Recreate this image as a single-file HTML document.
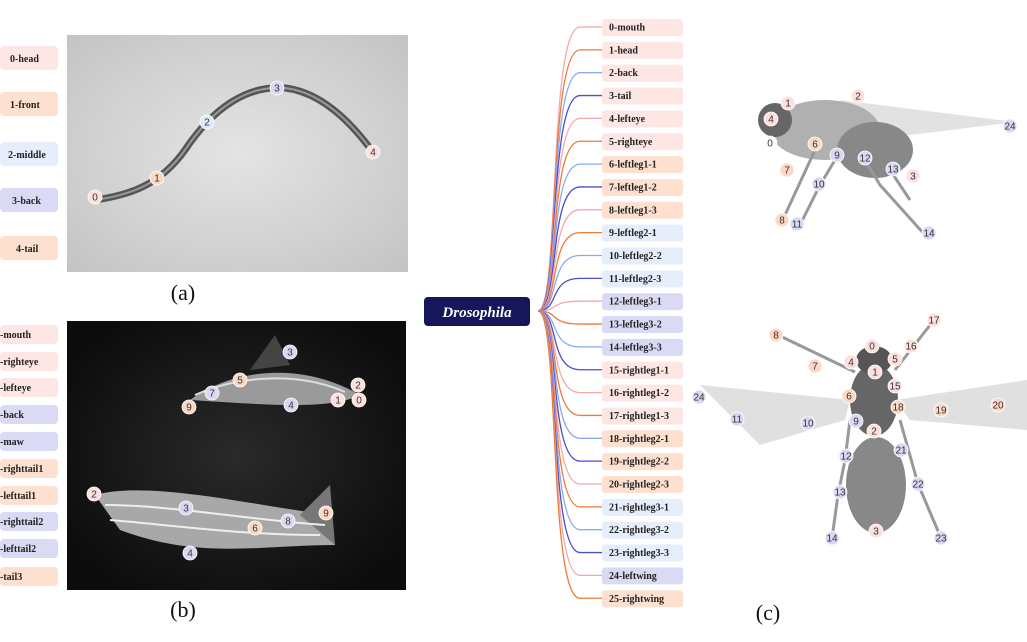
<!DOCTYPE html>
<html><head><meta charset="utf-8"><style>
html,body{margin:0;padding:0;background:#fff;}
svg{display:block;}
text{font-family:"Liberation Serif",serif;}
.lb{font-weight:bold;font-size:10px;fill:#222;}
.n{font-family:"Liberation Sans",sans-serif;font-size:10px;fill:#333;text-anchor:middle;}
</style></head><body>
<svg width="1027" height="642" viewBox="0 0 1027 642" xmlns="http://www.w3.org/2000/svg">
<defs>
<radialGradient id="wg" cx="0.5" cy="0.5" r="0.7"><stop offset="0" stop-color="#e4e4e4"/><stop offset="1" stop-color="#c4c4c4"/></radialGradient>
<radialGradient id="fg" cx="0.5" cy="0.5" r="0.6"><stop offset="0" stop-color="#2a2a2a"/><stop offset="1" stop-color="#0c0c0c"/></radialGradient>
</defs>
<g class="lb">
<rect x="0" y="46" width="58" height="24" rx="4" fill="#fde6e4"/><text x="10" y="62">0-head</text>
<rect x="0" y="92" width="58" height="24" rx="4" fill="#fde0cf"/><text x="10" y="108">1-front</text>
<rect x="0" y="142" width="58" height="24" rx="4" fill="#e6eefc"/><text x="8" y="158">2-middle</text>
<rect x="0" y="188" width="58" height="24" rx="4" fill="#dadaf4"/><text x="12" y="204">3-back</text>
<rect x="0" y="236" width="58" height="24" rx="4" fill="#fde0cf"/><text x="16" y="252">4-tail</text>
</g>
<rect x="67" y="35" width="341" height="237" fill="url(#wg)"/>
<path d="M95 200 C130 195 160 185 185 150 C215 105 250 85 285 88 C320 92 350 120 375 155" stroke="#555" stroke-width="7" fill="none" stroke-linecap="round"/>
<path d="M95 200 C130 195 160 185 185 150 C215 105 250 85 285 88 C320 92 350 120 375 155" stroke="#999" stroke-width="2" fill="none"/>
<text x="183" y="300" font-size="22" text-anchor="middle" fill="#111">(a)</text>
<g class="lb">
<rect x="0" y="325" width="58" height="19" rx="4" fill="#fde6e4"/><text x="0" y="338">-mouth</text>
<rect x="0" y="352" width="58" height="19" rx="4" fill="#fde6e4"/><text x="0" y="365">-righteye</text>
<rect x="0" y="378" width="58" height="19" rx="4" fill="#fde6e4"/><text x="0" y="391">-lefteye</text>
<rect x="0" y="405" width="58" height="19" rx="4" fill="#dadaf4"/><text x="0" y="418">-back</text>
<rect x="0" y="432" width="58" height="19" rx="4" fill="#dadaf4"/><text x="0" y="445">-maw</text>
<rect x="0" y="459" width="58" height="19" rx="4" fill="#fde0cf"/><text x="0" y="472">-righttail1</text>
<rect x="0" y="486" width="58" height="19" rx="4" fill="#fde0cf"/><text x="0" y="499">-lefttail1</text>
<rect x="0" y="512" width="58" height="19" rx="4" fill="#dadaf4"/><text x="0" y="525">-righttail2</text>
<rect x="0" y="539" width="58" height="19" rx="4" fill="#dadaf4"/><text x="0" y="552">-lefttail2</text>
<rect x="0" y="567" width="58" height="19" rx="4" fill="#fde0cf"/><text x="0" y="580">-tail3</text>
</g>
<rect x="67" y="321" width="339" height="269" fill="url(#fg)"/>
<path d="M190 400 C230 370 300 360 360 395 C330 410 270 405 190 400Z" fill="#9a9a9a"/>
<path d="M250 370 L275 335 L290 365Z" fill="#444"/>
<path d="M195 395 C240 375 300 372 345 392" stroke="#ddd" stroke-width="2" fill="none"/>
<path d="M95 495 C150 480 250 505 330 515 L335 545 C260 545 200 560 120 530Z" fill="#a8a8a8"/>
<path d="M300 515 L330 485 L335 545Z" fill="#777"/>
<path d="M105 505 C170 505 250 520 325 525 M110 520 C170 525 240 535 320 535" stroke="#eee" stroke-width="2" fill="none"/>
<text x="183" y="617" font-size="22" text-anchor="middle" fill="#111">(b)</text>
<rect x="424" y="297" width="106" height="29" rx="4" fill="#15175a"/>
<text x="477" y="317" font-size="15" font-weight="bold" font-style="italic" fill="#fff" text-anchor="middle">Drosophila</text>
<g fill="none" stroke-width="1.3" id="cn"></g>
<g id="bx" class="lb"></g>
<text x="768" y="620" font-size="22" text-anchor="middle" fill="#111">(c)</text>
<g>
<path d="M840 100 L1015 122 L870 140Z" fill="#e2e2e2"/>
<ellipse cx="825" cy="130" rx="55" ry="30" fill="#b0b0b0"/>
<ellipse cx="875" cy="150" rx="38" ry="28" fill="#888"/>
<circle cx="775" cy="120" r="17" fill="#666"/>
<path d="M815 150 L785 215 M835 160 L820 185 L800 225 M865 160 L880 185 L925 235 M890 170 L910 200" stroke="#999" stroke-width="3" fill="none"/>
</g>
<g>
<path d="M850 400 L700 385 L760 445 L845 420Z" fill="#e0e0e0"/>
<path d="M895 400 L1027 380 L1027 430 L910 420Z" fill="#e0e0e0"/>
<ellipse cx="874" cy="400" rx="24" ry="36" fill="#666"/>
<ellipse cx="874" cy="360" rx="18" ry="14" fill="#555"/>
<ellipse cx="876" cy="485" rx="30" ry="48" fill="#888"/>
<path d="M855 372 L778 335 M895 370 L934 320 M850 420 L845 460 L838 495 L832 538 M900 420 L918 484 L941 538" stroke="#999" stroke-width="3" fill="none"/>
</g>
<g id="pts"></g>
</svg>
<script>
var labels=["0-mouth","1-head","2-back","3-tail","4-lefteye","5-righteye","6-leftleg1-1","7-leftleg1-2","8-leftleg1-3","9-leftleg2-1","10-leftleg2-2","11-leftleg2-3","12-leftleg3-1","13-leftleg3-2","14-leftleg3-3","15-rightleg1-1","16-rightleg1-2","17-rightleg1-3","18-rightleg2-1","19-rightleg2-2","20-rightleg2-3","21-rightleg3-1","22-rightleg3-2","23-rightleg3-3","24-leftwing","25-rightwing"];
var fills=["#fde6e4","#fde6e4","#fde6e4","#fde6e4","#fde6e4","#fde6e4","#fde0cf","#fde0cf","#fde0cf","#e6eefc","#e6eefc","#e6eefc","#dadaf4","#dadaf4","#dadaf4","#fde6e4","#fde6e4","#fde6e4","#fde0cf","#fde0cf","#fde0cf","#e6eefc","#e6eefc","#e6eefc","#dadaf4","#fde0cf"];
var lc=["#f4a8a8","#ee7a35","#88aaf0","#4a4ec8"];
var NS="http://www.w3.org/2000/svg";
function el(t,a,p,txt){var e=document.createElementNS(NS,t);for(var k in a)e.setAttribute(k,a[k]);if(txt!=null)e.textContent=txt;p.appendChild(e);return e;}
var cn=document.getElementById("cn"),bx=document.getElementById("bx");
for(var i=0;i<26;i++){var y=27+i*22.85;
el("path",{d:"M538 311 C560 311 548 "+y+" 580 "+y+" L602 "+y,stroke:lc[i%4]},cn);
el("rect",{x:602,y:y-8,width:81,height:17,rx:3,fill:fills[i]},bx);
el("text",{x:609,y:y+3.5},bx,labels[i]);}
var P="#fbe0de",O="#fcd8c2",L="#d8d8f2",B="#dde8fb";
var pts=[[95,197,0,P],[157,178,1,O],[207,122,2,B],[277,88,3,L],[373,152,4,P],
[290,352,3,L],[240,380,5,O],[212,393,7,L],[189,407,9,O],[291,405,4,L],[358,385,2,P],[338,400,1,P],[359,400,0,P],
[94,494,2,P],[186,508,3,L],[255,528,6,O],[288,521,8,L],[326,513,9,O],[190,553,4,L],
[788,103,1,P],[858,96,2,P],[771,119,4,P],[770,143,0,"#fff"],[815,144,6,O],[837,155,9,L],[865,158,12,L],[893,169,13,L],[913,176,3,P],[787,170,7,O],[819,184,10,L],[782,220,8,O],[797,224,11,L],[929,233,14,L],[1010,126,24,L],
[776,335,8,O],[872,346,0,P],[934,320,17,P],[911,346,16,P],[815,366,7,O],[851,362,4,P],[895,359,5,P],[875,372,1,P],[895,386,15,P],[849,396,6,O],[898,407,18,O],[941,410,19,O],[998,405,20,O],[699,397,24,L],[737,419,11,L],[808,423,10,L],[856,421,9,L],[874,431,2,P],[901,450,21,L],[846,456,12,L],[918,484,22,L],[840,492,13,L],[876,531,3,P],[832,538,14,L],[941,538,23,L]];
var g=document.getElementById("pts");
pts.forEach(function(p){el("circle",{cx:p[0],cy:p[1],r:7,fill:p[3],stroke:"#fff","stroke-width":0.8},g);el("text",{x:p[0],y:p[1]+3.5,"class":"n"},g,String(p[2]));});
</script>
</body></html>
